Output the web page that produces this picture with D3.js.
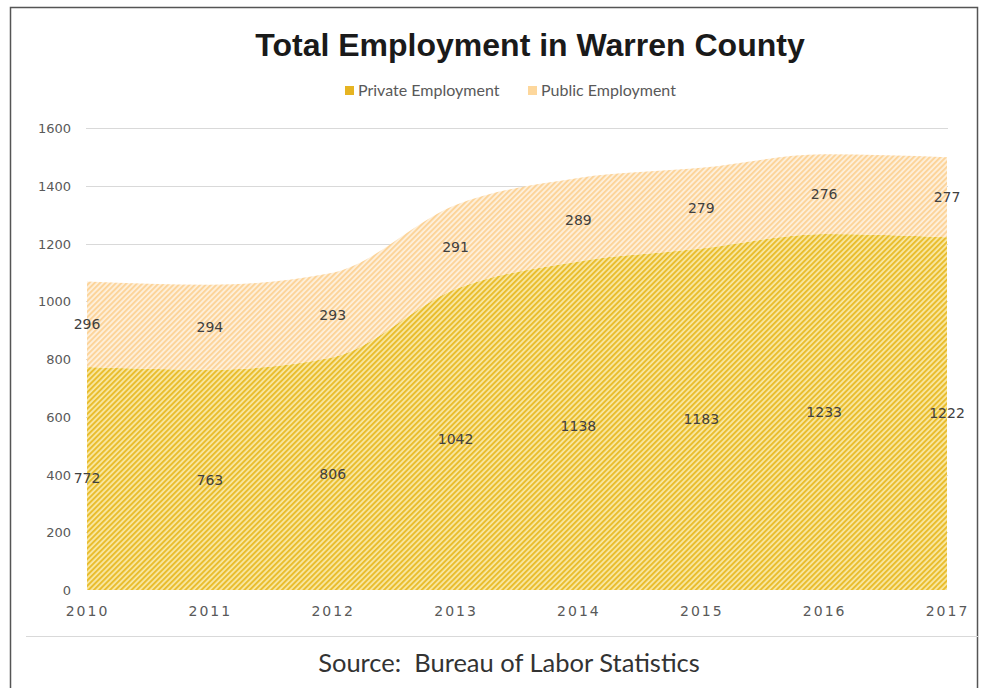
<!DOCTYPE html>
<html>
<head>
<meta charset="utf-8">
<script src="https://cdn.jsdelivr.net/npm/d3@7"></script>
<style>
  body { margin: 0; background: #fff; }
  svg { display: block; }
</style>
</head>
<body>
<script>
// chart data
var years = [2010, 2011, 2012, 2013, 2014, 2015, 2016, 2017];
var privateEmp = [772, 763, 806, 1042, 1138, 1183, 1233, 1222];
var publicEmp = [296, 294, 293, 291, 289, 279, 276, 277];
var seriesNames = ['Private Employment', 'Public Employment'];
var yTicks = [0, 200, 400, 600, 800, 1000, 1200, 1400, 1600];

var W = 985, H = 688;
var plotL = 87, plotR = 947, plotT = 128, plotB = 590;

var svg = d3.select('body').append('svg')
  .attr('width', W).attr('height', H);

// hatch patterns
var defs = svg.append('defs');
function hatch(id, bg, fg) {
  var p = defs.append('pattern')
    .attr('id', id)
    .attr('patternUnits', 'userSpaceOnUse')
    .attr('width', 3.8).attr('height', 3.8)
    .attr('patternTransform', 'rotate(45)');
  p.append('rect').attr('width', 3.8).attr('height', 3.8).attr('fill', bg);
  p.append('rect').attr('width', 2).attr('height', 3.8).attr('fill', fg);
}
hatch('hPrivate', '#f9e8a4', '#e9bd2e');
hatch('hPublic', '#fef0dc', '#fcd49a');

// frame
svg.append('rect')
  .attr('x', 10.5).attr('y', 7.5)
  .attr('width', 967).attr('height', 700)
  .attr('fill', 'none').attr('stroke', '#555').attr('stroke-width', 1.5);

svg.append('line')
  .attr('x1', 26).attr('x2', 978)
  .attr('y1', 636.5).attr('y2', 636.5)
  .attr('stroke', '#d9d9d9');

// title
svg.append('text')
  .attr('x', 530).attr('y', 56)
  .attr('text-anchor', 'middle')
  .attr('font-family', 'Liberation Sans, Arial, sans-serif')
  .attr('font-weight', 'bold')
  .attr('font-size', 32)
  .attr('fill', '#1a1a1a')
  .text('Total Employment in Warren County');

// scales
var x = d3.scalePoint().domain(years).range([plotL, plotR]);
var y = d3.scaleLinear().domain([0, 1600]).range([plotB, plotT]);

// gridlines
svg.append('g').selectAll('line')
  .data(yTicks.slice(1))
  .join('line')
  .attr('x1', plotL - 1).attr('x2', plotR + 1)
  .attr('y1', function(d) { return Math.round(y(d)) + 0.5; })
  .attr('y2', function(d) { return Math.round(y(d)) + 0.5; })
  .attr('stroke', '#d9d9d9');

// y axis
var yAxis = svg.append('g')
  .attr('transform', 'translate(' + (plotL - 16) + ',0)')
  .call(d3.axisLeft(y).tickValues(yTicks).tickSize(0).tickPadding(0)
    .tickFormat(d3.format('d')));
yAxis.select('.domain').remove();
yAxis.selectAll('text')
  .attr('font-family', 'DejaVu Sans, sans-serif')
  .attr('font-size', 13)
  .attr('fill', '#595959')
  .attr('dy', '0.35em');

// x axis
var xAxis = svg.append('g')
  .attr('transform', 'translate(0,' + (plotB + 16) + ')')
  .call(d3.axisBottom(x).tickSize(0).tickPadding(0));
xAxis.select('.domain').remove();
xAxis.selectAll('text')
  .attr('font-family', 'DejaVu Sans, sans-serif')
  .attr('font-size', 14)
  .attr('letter-spacing', 2)
  .attr('fill', '#595959')
  .attr('dy', '0.71em');

// stacked areas
var rows = years.map(function(yr, i) {
  return { year: yr, priv: privateEmp[i], pub: publicEmp[i] };
});
var stack = d3.stack().keys(['priv', 'pub']);
var layers = stack(rows);
var fills = ['url(#hPrivate)', 'url(#hPublic)'];

var area = d3.area()
  .curve(d3.curveMonotoneX)
  .x(function(d) { return x(d.data.year); })
  .y0(function(d) { return y(d[0]); })
  .y1(function(d) { return y(d[1]); });

svg.append('g').selectAll('path')
  .data(layers)
  .join('path')
  .attr('d', area)
  .attr('fill', function(d, i) { return fills[i]; });

// data labels
layers.forEach(function(layer) {
  svg.append('g').selectAll('text')
    .data(layer)
    .join('text')
    .attr('x', function(d) { return x(d.data.year); })
    .attr('y', function(d) { return y((d[0] + d[1]) / 2); })
    .attr('dy', '0.35em')
    .attr('text-anchor', 'middle')
    .attr('font-family', 'DejaVu Sans, sans-serif')
    .attr('font-size', 14)
    .attr('fill', '#404040')
    .text(function(d) { return d[1] - d[0]; });
});

// legend
var legendColors = ['#e6b422', '#fdd79c'];
var legendX = [345, 528];
var lg = svg.append('g');
seriesNames.forEach(function(name, i) {
  lg.append('rect')
    .attr('x', legendX[i]).attr('y', 86)
    .attr('width', 9).attr('height', 9)
    .attr('fill', legendColors[i]);
  lg.append('text')
    .attr('x', legendX[i] + 13).attr('y', 96)
    .attr('font-family', 'Lato, sans-serif')
    .attr('font-size', 16)
    .attr('fill', '#595959')
    .text(name);
});

// source note
svg.append('text')
  .attr('x', 509).attr('y', 672)
  .attr('text-anchor', 'middle')
  .attr('font-family', 'Lato, sans-serif')
  .attr('font-size', 25.5)
  .attr('fill', '#333')
  .style('white-space', 'pre')
  .text('Source:  Bureau of Labor Statistics');
</script>
</body>
</html>
